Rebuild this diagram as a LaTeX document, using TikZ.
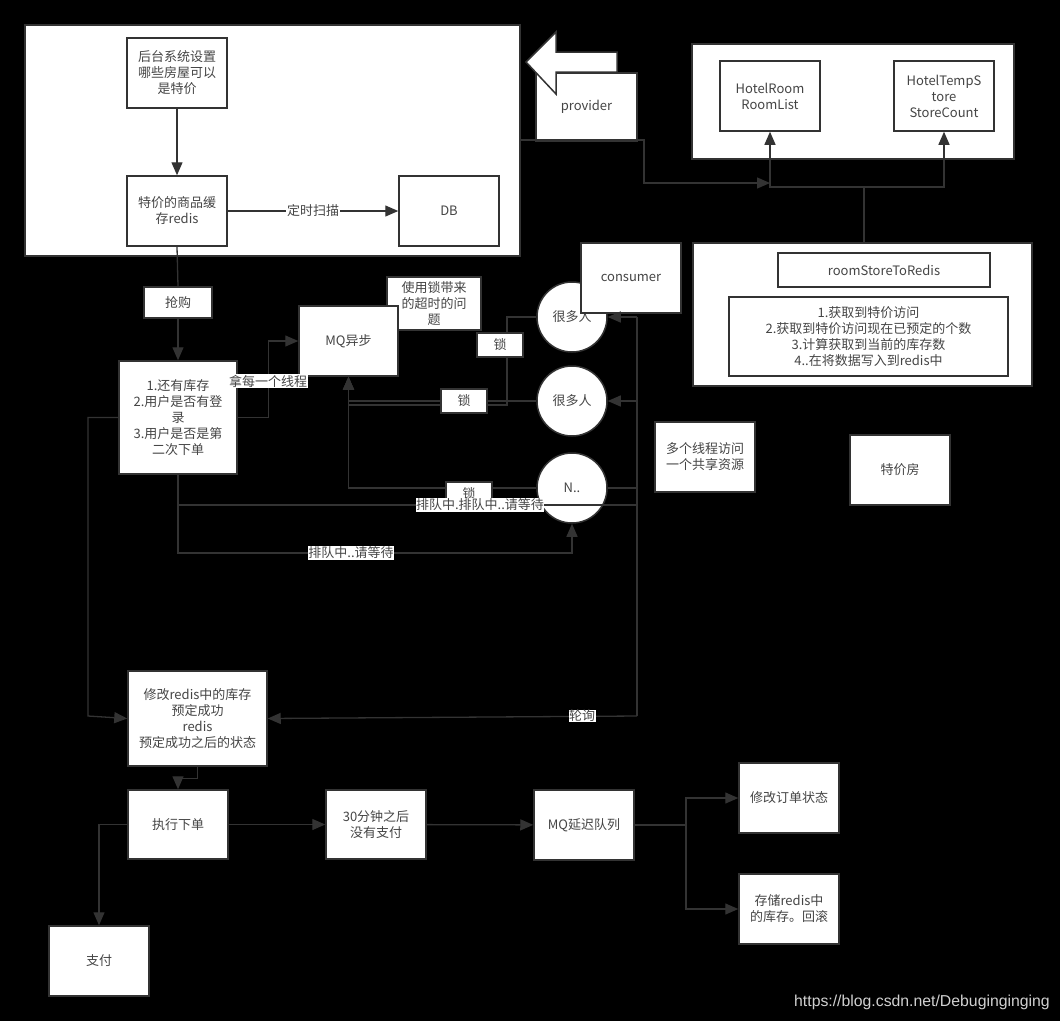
\documentclass[tikz,border=0pt]{standalone}
\usepackage{fontspec}
\setmainfont{Noto Sans CJK SC}
\newfontfamily\wmfont{Liberation Sans}
\usetikzlibrary{arrows.meta}
\definecolor{lc}{HTML}{333333}
\definecolor{tc}{HTML}{454545}
\definecolor{wmc}{HTML}{D0D0D0}
\begin{document}
\begin{tikzpicture}[x=1pt,y=-1pt,
  fnt/.style={font=\fontsize{13}{16}\selectfont},
  box/.style={draw=lc, fill=white, line width=1.5pt, text=tc, align=center, inner sep=1pt, fnt},
  sz/.style 2 args={minimum width=#1, minimum height=#2},
  cont/.style={draw=lc, fill=white, line width=1.5pt, inner sep=0pt},
  circ/.style={circle, draw=lc, fill=white, line width=1.5pt, text=tc, minimum size=70, inner sep=0pt, fnt},
  conn/.style={draw=lc, line width=1.3pt},
  arr/.style={conn, -{Triangle[length=13pt,width=11pt]}},
  lab/.style={fill=white, text=tc, inner sep=0.5pt, fnt},
  lockbox/.style={box, sz={46}{24}},
]
\fill[black] (0,0) rectangle (1060,1021);
\useasboundingbox (0,0) rectangle (1060,1021);

% containers
\node[cont, sz={495}{231}] (cont1) at (272.5,140.5) {};
\node[cont, sz={322}{115}] (cont2) at (853,101.5) {};
\node[cont, sz={339}{143}] (cont3) at (862.5,314.5) {};

% top-left group
\node[box, sz={100}{70}] (A) at (177,73) {后台系统设置\\哪些房屋可以\\是特价};
\node[box, sz={100}{70}] (B) at (177,211) {特价的商品缓\\存redis};
\node[box, sz={100}{70}] (DB) at (449,211) {DB};

% provider
\node[box, sz={101}{68}] (prov) at (586.5,107) {provider};
\draw[draw=lc, fill=white, line width=1.5pt] (526,62) -- (556,32) -- (556,52) -- (617,52) -- (617,72) -- (556,72) -- (556,94) -- cycle;

% top-right group
\node[box, sz={100}{70}] (HR) at (770,96) {HotelRoom\\RoomList};
\node[box, sz={100}{70}] (HT) at (944,96) {HotelTempS\\tore\\StoreCount};
\node[box, sz={212}{34}] (RS) at (884,270) {roomStoreToRedis};
\node[box, sz={279}{79}] (steps) at (868.5,336.5) {1.获取到特价访问\\2.获取到特价访问现在已预定的个数\\3.计算获取到当前的库存数\\4..在将数据写入到redis中};
\node[box, sz={100}{70}] (multi) at (705,457) {多个线程访问\\一个共享资源};
\node[box, sz={100}{70}] (tjf) at (900,470) {特价房};

% middle group
\node[box, sz={68}{31}] (qg) at (178,302.5) {抢购};
\node[box, sz={118}{113}] (chk) at (178,417.5) {1.还有库存\\2.用户是否有登\\录\\3.用户是否是第\\二次下单};
\node[box, sz={94}{53}] (issue) at (434,303.5) {使用锁带来\\的超时的问\\题};
\node[box, sz={99}{70}] (MQ) at (348.5,341) {MQ异步};
\node[circ] (c1) at (572,317) {很多人};
\node[circ] (c2) at (572,401) {很多人};
\node[circ] (c3) at (572,488) {N..};
\node[box, sz={100}{70}] (cons) at (631,278) {consumer};

% bottom group
\node[box, sz={139}{95}] (modr) at (197.5,718.5) {修改redis中的库存\\预定成功\\redis\\预定成功之后的状态};
\node[box, sz={100}{69}] (exec) at (178,824.5) {执行下单};
\node[box, sz={100}{69}] (m30) at (376,824.5) {30分钟之后\\没有支付};
\node[box, sz={100}{70}] (mqd) at (584,825) {MQ延迟队列};
\node[box, sz={100}{70}] (mord) at (789,798) {修改订单状态};
\node[box, sz={100}{70}] (stor) at (789,909) {存储redis中\\的库存。回滚};
\node[box, sz={100}{70}] (pay) at (99,961) {支付};

% coordinates
\coordinate (pj) at (770,183);
\coordinate (tj) at (864,187);
\coordinate (t1) at (637,317);
\coordinate (t2) at (637,401);
\coordinate (t3) at (637,488);
\coordinate (t4) at (637,505);
\coordinate (t5) at (637,716);
\coordinate (q1) at (178,505);
\coordinate (lp) at (88,716);
\coordinate (dj) at (686,825);

% connectors
\draw[arr] (A) -- (B);
\draw[arr] (B) -- (DB);
\draw[arr] (cont1.east |- 0,140) -- (644,140) |- (pj);
\draw[arr] (cont3.north -| tj) |- (HR.south |- tj) -- (HR.south);
\draw[arr] (tj) -| (HT.south);
\draw[conn] (B.south) -- (qg.north);
\draw[arr] (qg) -- (chk);
\draw[arr] (chk.east) -- ++(31,0) |- (MQ.west);
\draw[arr] (c1.west) -| (507,405) -| (MQ.south);
\draw[arr] (c2.west) -| (MQ.south);
\draw[arr] (c3.west) -| (MQ.south);
\draw[conn] (t1) -- (t5);
\draw[arr] (t1) -- (c1.east);
\draw[arr] (t2) -- (c2.east);
\draw[conn] (t3) -- (c3.east);
\draw[conn] (t4) -- (q1);
\draw[arr] (t5) -- (modr.east);
\draw[arr] (chk.south) |- (572,553) -- (c3.south);
\draw[arr] (chk.west) -| (lp) -- (modr.west);
\draw[arr] (modr.south) -- ++(0,12) -| (exec.north);
\draw[arr] (exec) -- (m30);
\draw[arr] (m30) -- (mqd);
\draw[conn] (mqd.east) -- (dj);
\draw[arr] (dj) |- (mord.west);
\draw[arr] (dj) |- (stor.west);
\draw[arr] (exec.west) -| (pay.north);

% edge labels
\node[fill=white, text=tc, inner sep=1pt, fnt] (ldsm) at (313,211) {定时扫描};
\node[lockbox] (lk1) at (500,345) {锁};
\node[lockbox] (lk2) at (464,401) {锁};
\node[lockbox] (lk3) at (469,494) {锁};
\node[lab] (lthr) at (268,381) {拿每一个线程};
\node[lab] (lq1) at (351,553) {排队中..请等待};
\node[lab] (lq2) at (480,505) {排队中.排队中..请等待};
\node[lab] (llx) at (582,716) {轮询};

% watermark
\node[anchor=east, text=wmc, inner sep=0pt, font=\wmfont\fontsize{15.8}{18}\selectfont] (wm) at (1050,1002) {https://blog.csdn.net/Debuginginging};
\end{tikzpicture}
\end{document}
